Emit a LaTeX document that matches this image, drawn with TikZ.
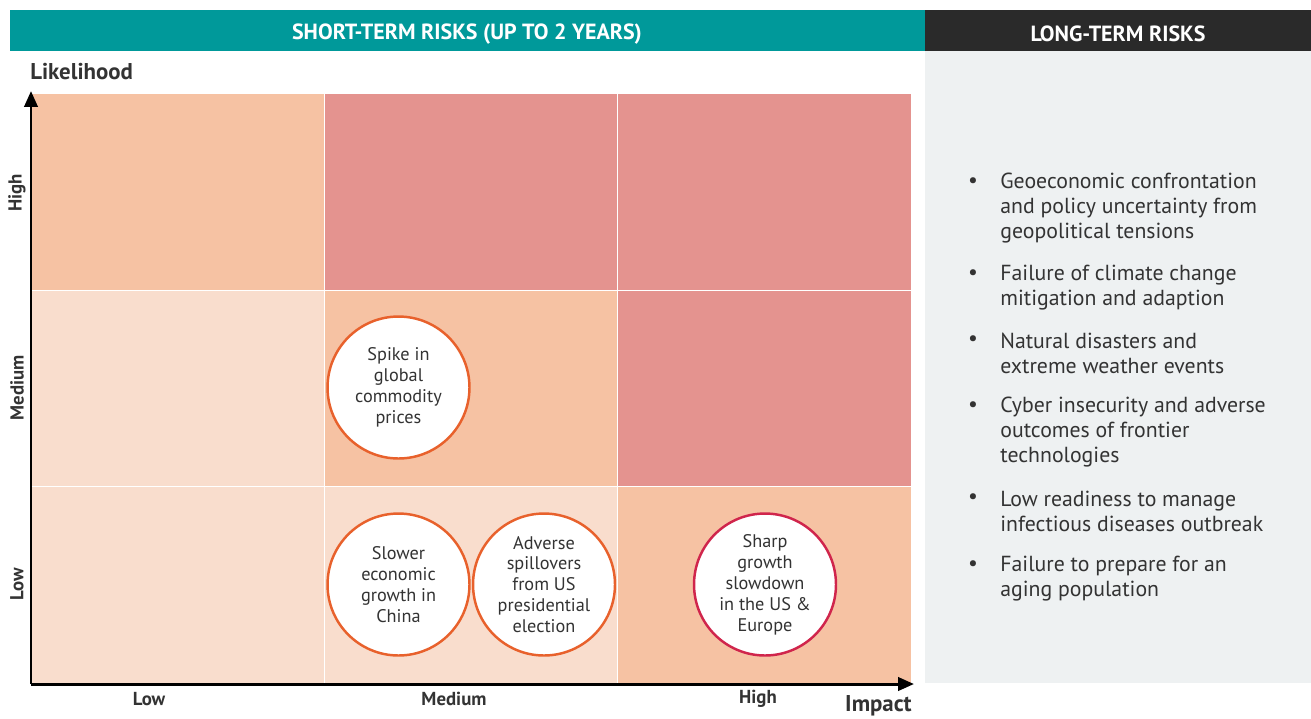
\documentclass[tikz,border=0pt]{standalone}
\usepackage{fontspec}
\setmainfont{PT Sans}
\usetikzlibrary{positioning,calc,arrows.meta}
\definecolor{riskteal}{HTML}{00999A}
\definecolor{riskdark}{HTML}{2A2A2A}
\definecolor{riskpanel}{HTML}{EEF1F2}
\definecolor{riskpeach}{HTML}{F6C2A3}
\definecolor{risklight}{HTML}{F9DDCD}
\definecolor{riskred}{HTML}{E4938F}
\definecolor{riskorange}{HTML}{E8612C}
\definecolor{riskcrimson}{HTML}{D0254C}
\definecolor{risktext}{HTML}{333333}

\begin{document}
\begin{tikzpicture}[
  x=0.02cm, y=-0.02cm,
  hdr/.style={minimum height=0.82cm, inner sep=0pt, font=\fontsize{12.5}{14}\selectfont\bfseries\color{white}},
  hdrtext/.style={inner sep=0pt, font=\fontsize{12.5}{14}\selectfont\bfseries\color{white}},
  cell/.style={draw=white, line width=0.8pt, minimum width=5.87cm, minimum height=3.93cm, inner sep=0pt},
  risk/.style={circle, draw=riskorange, fill=white, line width=1.4pt, minimum size=2.84cm, inner sep=0pt, align=center, font=\fontsize{10.4}{11.9}\selectfont\color{risktext}},
  axis/.style={-{Triangle[length=9pt,width=7.5pt]}, line width=1.7pt, black},
  axlab/.style={font=\fontsize{10.7}{12}\selectfont\bfseries\color{risktext}, inner sep=0pt},
  item/.style={anchor=west, align=left, inner sep=0pt, font=\fontsize{12.4}{14.2}\selectfont\color{risktext}},
  dot/.style={inner sep=0pt, font=\fontsize{12.4}{14.2}\selectfont\color{risktext}},
]
\useasboundingbox (0,0) rectangle (1311,718);
% header bars and long-term panel
\node[hdr, fill=riskteal, minimum width=18.3cm] (shorthdr) at (467.5,30.5) {};
\node[hdr, fill=riskdark, minimum width=7.72cm] (longhdr) at (1118,30.5) {};
\node[hdrtext] (shorttitle) at (467,34) {SHORT-TERM RISKS (UP TO 2 YEARS)};
\node[hdrtext] (longtitle) at (1118,34) {LONG-TERM RISKS};
\fill[riskpanel] (925,51) rectangle (1311,683);

% risk matrix
\node[cell, fill=riskpeach] (hl) at (177.5,192) {};
\node[cell, fill=riskred]   (hm) at (471,192) {};
\node[cell, fill=riskred]   (hh) at (764.5,192) {};
\node[cell, fill=risklight] (ml) at (177.5,388.5) {};
\node[cell, fill=riskpeach] (mm) at (471,388.5) {};
\node[cell, fill=riskred]   (mh) at (764.5,388.5) {};
\node[cell, fill=risklight] (ll) at (177.5,585) {};
\node[cell, fill=risklight] (lm) at (471,585) {};
\node[cell, fill=riskpeach] (lh) at (764.5,585) {};

% axes
\coordinate (origin) at (31,684);
\coordinate (ytop) at (31,91);
\coordinate (xend) at (914,684);
\draw[axis] (origin) -- (ytop);
\draw[axis] (origin) -- (xend);
\node[anchor=west, inner sep=0pt, font=\fontsize{13}{15}\selectfont\bfseries\color{risktext}] (likelihood) at (30,72) {Likelihood};
\node[anchor=east, inner sep=0pt, font=\fontsize{13}{15}\selectfont\bfseries\color{risktext}] (impact) at (912,706) {Impact};
\node[axlab, rotate=90] (yhigh) at (17,193) {High};
\node[axlab, rotate=90] (ymed)  at (17,388) {Medium};
\node[axlab, rotate=90] (ylow)  at (17,584) {Low};
\node[axlab] (xlow)  at (149,699) {Low};
\node[axlab] (xmed)  at (454,699) {Medium};
\node[axlab] (xhigh) at (758,699) {High};

% risks
\node[risk] (spike)  at (398.5,387.5) {Spike in\\global\\commodity\\prices};
\node[risk] (china)  at (398.5,584.5) {Slower\\economic\\growth in\\China};
\node[risk] (uselec) at (544,584.5) {Adverse\\spillovers\\from US\\presidential\\election};
\node[risk, draw=riskcrimson] (sharp) at (765,584.5) {Sharp\\growth\\slowdown\\in the US \&\\Europe};

% long-term list
\node[item] (lt1) at (1000,208) {Geoeconomic confrontation\\and policy uncertainty from\\geopolitical tensions};
\node[item] (lt2) at (1000,287.5) {Failure of climate change\\mitigation and adaption};
\node[item] (lt3) at (1000,353.5) {Natural disasters and\\extreme weather events};
\node[item] (lt4) at (1000,432) {Cyber insecurity and adverse\\outcomes of frontier\\technologies};
\node[item] (lt5) at (1000,511.5) {Low readiness to manage\\infectious diseases outbreak};
\node[item] (lt6) at (1000,578.5) {Failure to prepare for an\\aging population};
\node[dot] (d1) at (973,183) {•};
\node[dot] (d2) at (973,275) {•};
\node[dot] (d3) at (973,341) {•};
\node[dot] (d4) at (973,407) {•};
\node[dot] (d5) at (973,499) {•};
\node[dot] (d6) at (973,566) {•};
\end{tikzpicture}
\end{document}
